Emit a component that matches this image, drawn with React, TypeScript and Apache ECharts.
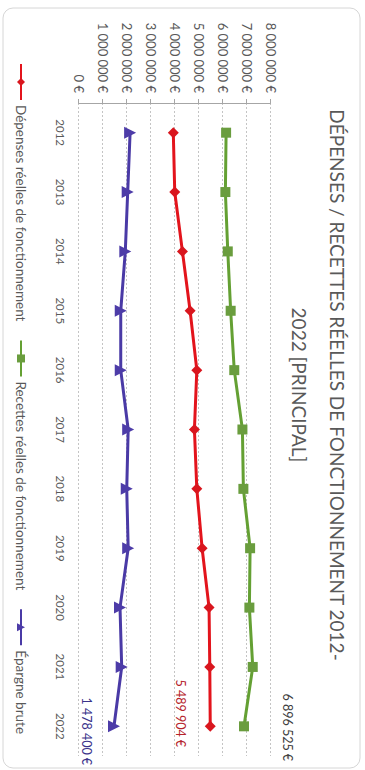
import React, { useEffect, useRef } from "react";
import * as echarts from "echarts";

// Years on the category axis
const years = ["2012", "2013", "2014", "2015", "2016", "2017", "2018", "2019", "2020", "2021", "2022"];

// Operating expenses, operating revenue and gross savings (euros)
const depenses = [3950000, 4010000, 4330000, 4650000, 4930000, 4830000, 4930000, 5150000, 5440000, 5470000, 5489904];
const recettes = [6150000, 6120000, 6220000, 6340000, 6490000, 6830000, 6870000, 7150000, 7120000, 7260000, 6896525];
const epargne = [2150000, 2050000, 1950000, 1760000, 1760000, 2070000, 2010000, 2070000, 1730000, 1800000, 1478400];

const seriesNames = [
  "Dépenses réelles de fonctionnement",
  "Recettes réelles de fonctionnement",
  "Épargne brute",
];

const titleLines = ["DÉPENSES / RECETTES RÉELLES DE FONCTIONNEMENT 2012-", "2022 [PRINCIPAL]"];

const FONT = "Lato, 'Noto Sans', sans-serif";

const euro = (v: number) => String(Math.round(v)).replace(/\B(?=(\d{3})+(?!\d))/g, " ") + " €";

// The chart is laid out in landscape (770 x 365) and turned a quarter turn clockwise.
const W = 770;
const H = 365;

function withLastLabel(values: number[], color: string, offset: [number, number]) {
  return values.map((v, i) =>
    i === values.length - 1
      ? {
          value: v,
          label: {
            show: true,
            position: "inside",
            offset,
            formatter: () => euro(v),
            color,
            fontFamily: FONT,
            fontSize: 12.5,
          },
        }
      : v
  );
}

export default function App() {
  const ref = useRef<HTMLDivElement>(null);

  useEffect(() => {
    if (!ref.current) return;
    const chart = echarts.init(ref.current, null, { renderer: "svg" });
    chart.setOption({
      animation: false,
      backgroundColor: "#ffffff",
      title: {
        text: titleLines.join("\n"),
        left: "center",
        top: 4,
        textStyle: {
          fontFamily: FONT,
          fontSize: 19,
          fontWeight: "normal",
          color: "#595959",
          lineHeight: 38,
        },
      },
      graphic: [
        {
          type: "rect",
          shape: { x: 8, y: 5, width: 760, height: 357, r: 10 },
          style: { fill: "none", stroke: "#d6d6d6", lineWidth: 1 },
          silent: true,
          z: -1,
        },
      ],
      legend: {
        left: 58,
        top: 332,
        itemWidth: 36,
        itemHeight: 10,
        itemGap: 18,
        textStyle: { fontFamily: FONT, fontSize: 13.5, color: "#595959" },
        data: seriesNames,
      },
      grid: { left: 103, right: 14, top: 94.5, bottom: 78.5 },
      xAxis: {
        type: "category",
        data: years,
        boundaryGap: true,
        axisLine: { show: false },
        axisTick: { show: false },
        axisLabel: { fontFamily: FONT, fontSize: 11.5, color: "#595959", margin: 12 },
      },
      yAxis: {
        type: "value",
        min: 0,
        max: 8000000,
        interval: 1000000,
        axisLine: { show: true, lineStyle: { color: "#a6a6a6", width: 1 } },
        axisTick: { show: true, length: 4, lineStyle: { color: "#a6a6a6" } },
        axisLabel: {
          fontFamily: FONT,
          fontSize: 13,
          color: "#595959",
          margin: 10,
          formatter: (v: number) => euro(v),
        },
        splitLine: { show: true, lineStyle: { color: "#c4c4c4", width: 1, type: [2, 2] } },
      },
      series: [
        {
          name: seriesNames[0],
          type: "line",
          data: withLastLabel(depenses, "#b5242b", [-13, 30]),
          symbol: "diamond",
          symbolSize: 11,
          lineStyle: { color: "#e3141c", width: 3 },
          itemStyle: { color: "#d9161e" },
        },
        {
          name: seriesNames[1],
          type: "line",
          data: withLastLabel(recettes, "#404040", [1, -43]),
          symbol: "rect",
          symbolSize: 10,
          lineStyle: { color: "#64a033", width: 3 },
          itemStyle: { color: "#6a9d3e" },
        },
        {
          name: seriesNames[2],
          type: "line",
          data: withLastLabel(epargne, "#3a338a", [5, 27]),
          symbol: "triangle",
          symbolSize: 12,
          lineStyle: { color: "#4a3aa6", width: 3 },
          itemStyle: { color: "#4d3ca8" },
        },
      ],
    });
    return () => chart.dispose();
  }, []);

  return (
    <div style={{ position: "absolute", left: 0, top: 0, width: H, height: W, overflow: "hidden", background: "#fff" }}>
      <div
        ref={ref}
        style={{
          position: "absolute",
          left: 0,
          top: 0,
          width: W,
          height: H,
          transformOrigin: "0 0",
          transform: `translateX(${H}px) rotate(90deg)`,
        }}
      />
    </div>
  );
}
